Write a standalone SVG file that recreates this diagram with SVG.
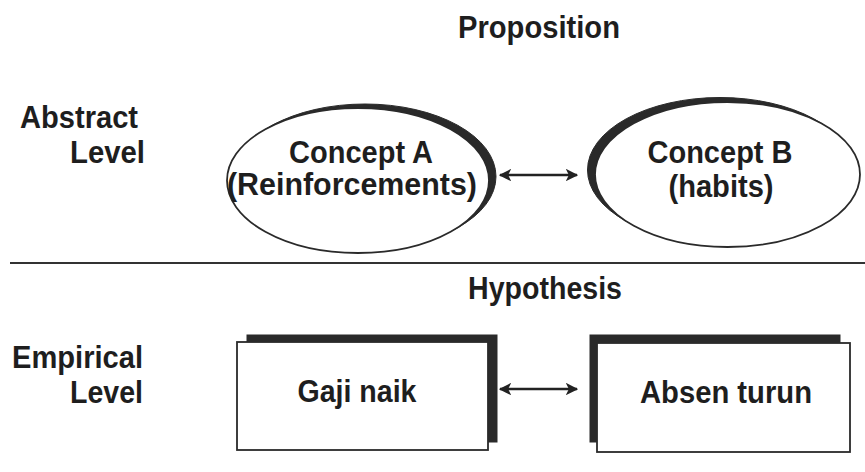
<svg xmlns="http://www.w3.org/2000/svg" width="865" height="472" viewBox="0 0 865 472">
<defs>
<style>
.t{font-family:"Liberation Sans",Arial,sans-serif;font-weight:bold;font-size:31px;fill:#1e1e1e}
.m{text-anchor:middle}
.sh{fill:#2a2a2a;stroke:#2a2a2a;stroke-width:1}
.fr{fill:#ffffff;stroke:#2a2a2a;stroke-width:1.8}
.c{stroke:#222;stroke-width:2.5;fill:none}
</style>
<marker id="ah" viewBox="0 0 10 10" refX="9" refY="5" markerWidth="5" markerHeight="5" orient="auto-start-reverse">
<path d="M0,0 L10,5 L0,10 L2.5,5 z" fill="#222"/>
</marker>
</defs>
<rect width="865" height="472" fill="#ffffff"/>
<g id="labels">
<text class="t m" x="539" y="38" textLength="162" lengthAdjust="spacingAndGlyphs">Proposition</text>
<text class="t" x="20" y="128" textLength="118" lengthAdjust="spacingAndGlyphs">Abstract</text>
<text class="t" x="70" y="163" textLength="75" lengthAdjust="spacingAndGlyphs">Level</text>
<text class="t m" x="545" y="299" textLength="154" lengthAdjust="spacingAndGlyphs">Hypothesis</text>
<text class="t" x="12" y="368" textLength="131" lengthAdjust="spacingAndGlyphs">Empirical</text>
<text class="t" x="70" y="403" textLength="73" lengthAdjust="spacingAndGlyphs">Level</text>
</g>
<line id="divider" x1="10" y1="263" x2="865" y2="263" stroke="#333" stroke-width="2"/>
<g id="conceptA">
<ellipse class="sh" cx="365" cy="176.5" rx="131" ry="72.5"/>
<ellipse class="fr" cx="358" cy="180.5" rx="131" ry="72.5"/>
<text class="t m" x="361" y="163" textLength="144" lengthAdjust="spacingAndGlyphs">Concept A</text>
<text class="t m" x="352" y="195" textLength="250" lengthAdjust="spacingAndGlyphs">(Reinforcements)</text>
</g>
<g id="conceptB">
<ellipse class="sh" cx="720" cy="170" rx="132.5" ry="72.5"/>
<ellipse class="fr" cx="727.5" cy="174.5" rx="132.5" ry="72.5"/>
<text class="t m" x="720" y="163" textLength="145" lengthAdjust="spacingAndGlyphs">Concept B</text>
<text class="t m" x="721" y="197" textLength="105" lengthAdjust="spacingAndGlyphs">(habits)</text>
</g>
<g id="gajiNaik">
<rect class="sh" x="247" y="335" width="250" height="107"/>
<rect class="fr" x="237" y="342" width="251" height="108"/>
<text class="t m" x="357" y="402" textLength="119" lengthAdjust="spacingAndGlyphs">Gaji naik</text>
</g>
<g id="absenTurun">
<rect class="sh" x="590" y="335" width="250" height="107"/>
<rect class="fr" x="597" y="343" width="253" height="109"/>
<text class="t m" x="726" y="403" textLength="172" lengthAdjust="spacingAndGlyphs">Absen turun</text>
</g>
<g id="connectors">
<line class="c" x1="500" y1="175" x2="577" y2="175" marker-start="url(#ah)" marker-end="url(#ah)"/>
<line class="c" x1="500" y1="389" x2="577" y2="389" marker-start="url(#ah)" marker-end="url(#ah)"/>
</g>
</svg>
